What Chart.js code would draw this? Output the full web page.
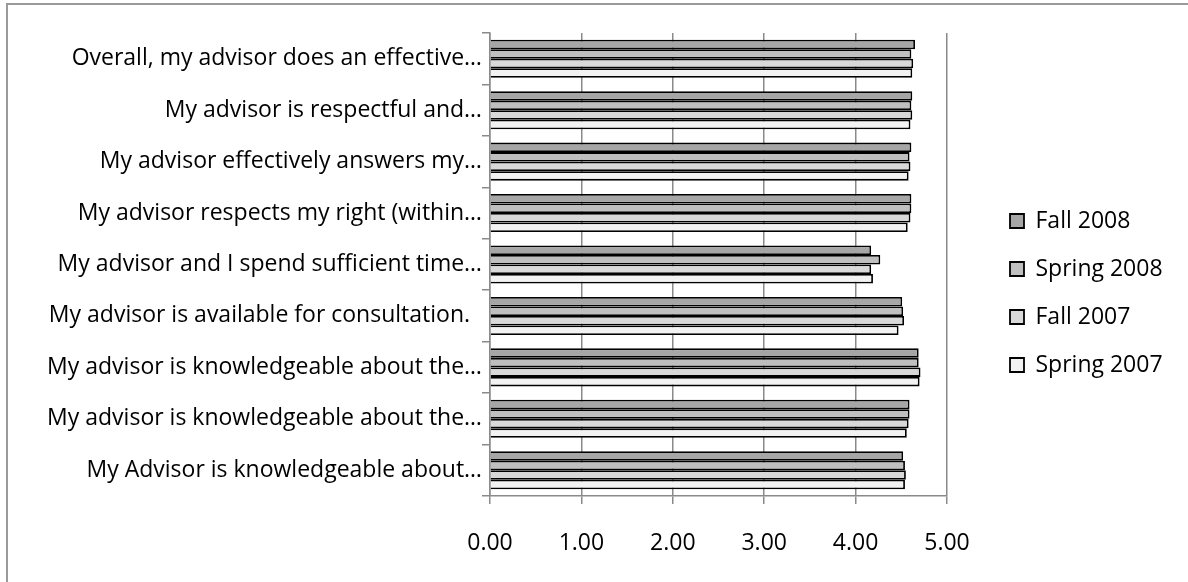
<!DOCTYPE html>
<html lang="en">
<head>
  <meta charset="UTF-8" />
  <title>Advisor survey</title>
  <script src="https://cdn.jsdelivr.net/npm/chart.js"></script>
  <style>
    html, body { margin: 0; padding: 0; background: #fff; overflow: hidden; }
    .frame {
      position: absolute; left: 6px; top: 3px; width: 1300px; height: 700px;
      border: 2px solid #9a9a9a; box-sizing: border-box;
    }
    #chart { position: absolute; left: 0; top: 0; }
  </style>
</head>
<body>
  <div class="frame"></div>
  <canvas id="chart" width="1188" height="582"></canvas>

  <script>
    // survey items (top to bottom)
    const labels = [
      "Overall, my advisor does an effective\u2026",
      "My advisor is respectful and\u2026",
      "My advisor effectively answers my\u2026",
      "My advisor respects my right (within\u2026",
      "My advisor and I spend sufficient time\u2026",
      "My advisor is available for consultation.  ",
      "My advisor is knowledgeable about the\u2026",
      "My advisor is knowledgeable about the\u2026",
      "My Advisor is knowledgeable about\u2026"
    ];
    const seriesNames = ["Fall 2008", "Spring 2008", "Fall 2007", "Spring 2007"];
    const fall2008   = [4.65, 4.62, 4.61, 4.61, 4.17, 4.51, 4.69, 4.59, 4.52];
    const spring2008 = [4.61, 4.61, 4.59, 4.61, 4.27, 4.52, 4.69, 4.59, 4.54];
    const fall2007   = [4.63, 4.62, 4.60, 4.60, 4.17, 4.53, 4.71, 4.58, 4.55];
    const spring2007 = [4.62, 4.60, 4.58, 4.57, 4.19, 4.47, 4.70, 4.56, 4.54];
    const xTicks = [0, 1, 2, 3, 4, 5];

    const fills = ["#a6a6a6", "#bfbfbf", "#d9d9d9", "#f2f2f2"];
    const values = [fall2008, spring2008, fall2007, spring2007];
    const font = { family: "'Open Sans', Lato, sans-serif", size: 23 };

    // legend gets a fixed width so its items sit where the original has them
    const legendWidth = {
      id: 'legendWidth',
      beforeLayout(chart) {
        const lg = chart.legend;
        if (!lg || lg._fixed) return;
        const fit = lg.fit;
        lg.fit = function () { fit.call(this); this.width = 203; };
        lg._fixed = true;
      }
    };

    new Chart(document.getElementById("chart"), {
      type: 'bar',
      data: {
        labels: labels,
        datasets: seriesNames.map((name, i) => ({
          label: name,
          data: values[i],
          backgroundColor: fills[i],
          borderColor: '#000',
          borderWidth: 1.8,
          borderSkipped: 'start',
          categoryPercentage: 0.74,
          barPercentage: 1.0
        }))
      },
      options: {
        indexAxis: 'y',
        responsive: false,
        animation: false,
        layout: { padding: { top: 33, left: 0, right: 0, bottom: 29 } },
        scales: {
          x: {
            min: 0, max: 5,
            afterBuildTicks(s) { s.ticks = xTicks.map(v => ({ value: v })); },
            ticks: {
              color: '#000', font: font, padding: 26,
              callback: v => Number(v).toFixed(2)
            },
            grid: { color: '#8a8a8a', lineWidth: 1.5, tickLength: 8 },
            border: { color: '#8a8a8a', width: 1.5 },
            afterFit(s) { s.height = 57; }
          },
          y: {
            ticks: { color: '#000', font: font, padding: 0 },
            grid: { color: '#8a8a8a', lineWidth: 1.5, drawOnChartArea: false, tickLength: 8, offset: true },
            border: { color: '#8a8a8a', width: 1.5 },
            afterFit(s) { s.width = 490; }
          },
          gap: {
            type: 'linear', position: 'right', display: true,
            grid: { display: false }, border: { display: false }, ticks: { display: false },
            afterFit(s) { s.width = 38; }
          }
        },
        plugins: {
          legend: {
            position: 'right',
            align: 'center',
            labels: { color: '#000', font: font, boxWidth: 14, boxHeight: 14, padding: 25 }
          },
          tooltip: { enabled: false }
        }
      },
      plugins: [legendWidth]
    });
  </script>
</body>
</html>
